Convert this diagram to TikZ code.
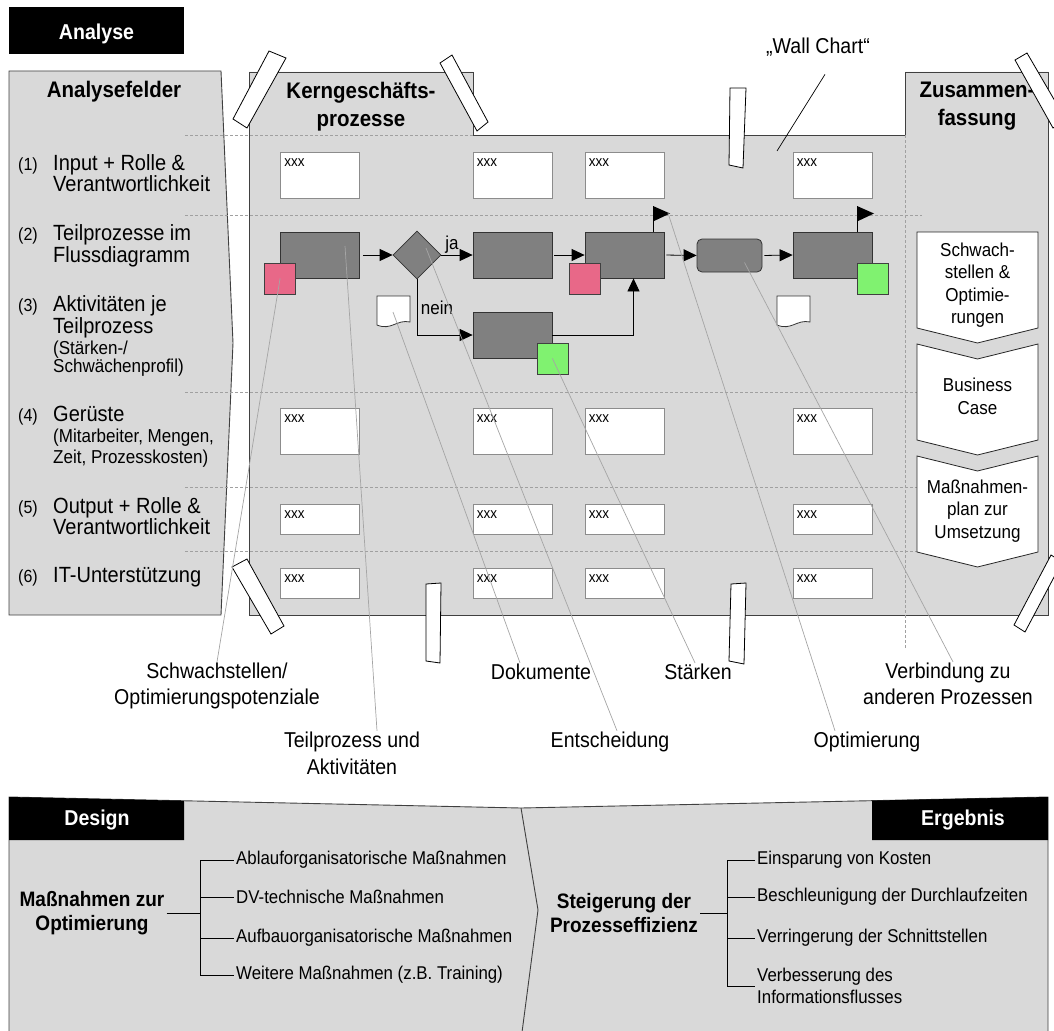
\documentclass[tikz,border=0pt]{standalone}
\usepackage{fontspec}
\setmainfont{Liberation Sans}[FakeStretch=0.91]
\usetikzlibrary{arrows.meta,shapes.geometric}

\definecolor{panelgray}{RGB}{217,217,217}
\definecolor{panelline}{RGB}{64,64,64}
\definecolor{procgray}{RGB}{128,128,128}
\definecolor{weakred}{RGB}{232,104,136}
\definecolor{stronggreen}{RGB}{128,242,112}
\definecolor{boxline}{RGB}{140,140,140}
\definecolor{calloutgray}{RGB}{165,165,165}
\definecolor{rulegray}{RGB}{160,160,160}

\newcommand\fs[2]{\fontsize{#1}{#2}\selectfont}
% white box with "xxx" in its upper left corner: name, x, y, height
\newcommand\xxxbox[4]{%
  \node[xbox,minimum height=#4] (#1) at (#2,#3) {};
  \path (#1.north west) ++(4,11) node[xtext] (#1t) {xxx};
}

\begin{document}
\begin{tikzpicture}[x=1pt,y=-1pt,
  panel/.style={fill=panelgray,draw=panelline,line width=0.9pt},
  tapestrip/.style={fill=white,draw=black,line width=0.8pt},
  rowrule/.style={draw=rulegray,dash pattern=on 3pt off 2pt,line width=0.7pt},
  xbox/.style={draw=boxline,fill=white,line width=0.8pt,minimum width=79pt,inner sep=0pt},
  xtext/.style={font=\fs{14.8}{15},anchor=west,inner sep=0pt},
  proc/.style={draw=black!80,fill=procgray,line width=0.8pt,minimum width=79pt,minimum height=46pt,inner sep=0pt},
  sqbox/.style={draw=black!75,line width=0.8pt,minimum size=31pt,inner sep=0pt},
  flow/.style={-{Triangle[length=13pt,width=12pt]},line width=0.8pt},
  doc/.style={fill=white,draw=black!80,line width=0.8pt},
  chev/.style={fill=white,draw=black!85,line width=0.8pt},
  chevtext/.style={font=\fs{18.7}{22.4},align=center,inner sep=0pt},
  callout/.style={draw=calloutgray,line width=0.7pt},
  calltext/.style={font=\fs{21.5}{26},align=center,inner sep=1pt},
  title/.style={font=\bfseries\fs{22.5}{28},align=center,inner sep=0pt},
  num/.style={font=\fs{17.6}{18},anchor=base west,inner sep=0pt},
  ltxt/.style={font=\fs{22}{22},anchor=base west,inner sep=0pt},
  lsmall/.style={font=\fs{18.7}{19},anchor=base west,inner sep=0pt},
  hdrtext/.style={font=\bfseries\fs{21.5}{22},text=white,anchor=base,inner sep=0pt},
  boldlbl/.style={font=\bfseries\fs{20.9}{24},align=center,inner sep=2pt},
  item/.style={font=\fs{18.5}{22},align=left,anchor=west,inner sep=2pt},
  tree/.style={draw=black,line width=0.8pt}
]
\useasboundingbox (0,0) rectangle (1054,1030);

% ---------- header ----------
\node[fill=black,minimum width=175pt,minimum height=47pt,inner sep=0pt] (hAn) at (96.5,30.5) {};
\node[hdrtext] (hAnT) at (96.5,40) {Analyse};

% ---------- panels ----------
\draw[panel] (9,71) -- (221,71) -- (233,343) -- (221,615) -- (9,615) -- cycle;
\draw[panel] (249,72) -- (473,72) -- (473,135) -- (905,135) -- (905,72)
  -- (1048,72) -- (1048,615) -- (249,615) -- cycle;

% row separators
\draw[rowrule] (185,135) -- (473,135);
\draw[rowrule] (185,215) -- (922,215);
\draw[rowrule] (185,392) -- (917,392);
\draw[rowrule] (185,487) -- (917,487);
\draw[rowrule] (185,551) -- (917,551);
\draw[rowrule] (905,135) -- (905,648);

% ---------- titles ----------
\node[title,anchor=base] (ttlL) at (114,98) {Analysefelder};
\node[title] (ttlM) at (361,106.5) {Kerngeschäfts-\\prozesse};
\node[title] (ttlR) at (977,106.5) {Zusammen-\\fassung};

% ---------- analysis fields ----------
\node[num] (n1) at (18,170) {(1)};
\node[ltxt] (t1a) at (53,170) {Input + Rolle \&};
\node[ltxt] (t1b) at (53,191) {Verantwortlichkeit};
\node[num] (n2) at (18,240) {(2)};
\node[ltxt] (t2a) at (53,240) {Teilprozesse im};
\node[ltxt] (t2b) at (53,262) {Flussdiagramm};
\node[num] (n3) at (18,311) {(3)};
\node[ltxt] (t3a) at (53,311) {Aktivitäten je};
\node[ltxt] (t3b) at (53,333) {Teilprozess};
\node[lsmall] (t3c) at (53,354) {(Stärken-/};
\node[lsmall] (t3d) at (53,372) {Schwächenprofil)};
\node[num] (n4) at (18,421) {(4)};
\node[ltxt] (t4a) at (53,421) {Gerüste};
\node[lsmall] (t4b) at (53,442) {(Mitarbeiter, Mengen,};
\node[lsmall] (t4c) at (53,463) {Zeit, Prozesskosten)};
\node[num] (n5) at (18,513) {(5)};
\node[ltxt] (t5a) at (53,513) {Output + Rolle \&};
\node[ltxt] (t5b) at (53,534) {Verantwortlichkeit};
\node[num] (n6) at (18,582) {(6)};
\node[ltxt] (t6a) at (53,582) {IT-Unterstützung};

% ---------- white boxes ----------
\xxxbox{ba}{320}{175}{46}
\xxxbox{bb}{512.5}{175}{46}
\xxxbox{bc}{624.5}{175}{46}
\xxxbox{bd}{832.5}{175}{46}
\xxxbox{da}{320}{431}{46}
\xxxbox{db}{512.5}{431}{46}
\xxxbox{dc}{624.5}{431}{46}
\xxxbox{dd}{832.5}{431}{46}
\xxxbox{ea}{320}{519}{30}
\xxxbox{eb}{512.5}{519}{30}
\xxxbox{ec}{624.5}{519}{30}
\xxxbox{ed}{832.5}{519}{30}
\xxxbox{fa}{320}{583}{30}
\xxxbox{fb}{512.5}{583}{30}
\xxxbox{fc}{624.5}{583}{30}
\xxxbox{fd}{832.5}{583}{30}

% ---------- process flow ----------
\node[proc] (pA) at (320,255) {};
\node[diamond,draw=black!80,fill=procgray,line width=0.8pt,minimum width=48pt,minimum height=48pt,inner sep=0pt] (pDec) at (417,255) {};
\node[proc] (pB) at (512.5,255) {};
\node[proc] (pC) at (624.5,255) {};
\node[proc,rounded corners=5pt,minimum width=65pt,minimum height=33pt] (pD) at (729.5,255.5) {};
\node[proc] (pE) at (832.5,255) {};
\node[proc] (pF) at (512.5,335) {};

\draw[flow,shorten <=3pt] (pA.east) -- (pDec.west);
\draw[flow] (pDec.east) -- (pB.west);
\draw[flow,shorten <=2pt] (pB.east) -- (pC.west);
\draw[flow,shorten <=2pt] (pC.east) -- (pD.west);
\draw[flow,shorten <=2pt] (pD.east) -- (pE.west);
\draw[flow] (pDec.south) |- (pF.west);
\draw[flow] (pF.east) -| ([xshift=9pt]pC.south);
\node[font=\fs{18.7}{19},inner sep=0pt] (lja) at (452,245) {ja};
\node[font=\fs{18.7}{19},inner sep=0pt] (lnein) at (437,308) {nein};

% flags
\coordinate (flagC) at (653,206);
\coordinate (flagE) at (857,206);
\draw[line width=0.8pt] (flagC) -- (flagC |- pC.north);
\draw[line width=0.8pt] (flagE) -- (flagE |- pE.north);
\fill (flagC) -- ++(17,7.5) -- ++(-17,8) -- cycle;
\fill (flagE) -- ++(17,7.5) -- ++(-17,8) -- cycle;

% weak points and strengths
\node[sqbox,fill=weakred] (wA) at (pA.south west) {};
\node[sqbox,fill=weakred] (wC) at (pC.south west) {};
\node[sqbox,fill=stronggreen] (sF) at (pF.south east) {};
\node[sqbox,fill=stronggreen] (sE) at (pE.south east) {};

% documents
\draw[doc] (377,296) -- (410,296) -- (410,322) .. controls (397,319) and (391,331) .. (377,325) -- cycle;
\draw[doc] (777,296) -- (810,296) -- (810,322) .. controls (797,319) and (791,331) .. (777,325) -- cycle;
\coordinate (doc1) at (393,312);

% ---------- summary chevrons ----------
\draw[chev] (917,232) -- (1038,232) -- (1038,328) -- (977.5,343) -- (917,328) -- cycle;
\draw[chev] (917,344) -- (977.5,359) -- (1038,344) -- (1038,440) -- (977.5,455) -- (917,440) -- cycle;
\draw[chev] (917,456) -- (977.5,471) -- (1038,456) -- (1038,552) -- (977.5,567) -- (917,552) -- cycle;
\node[chevtext] (cv1) at (977.5,285) {Schwach-\\stellen \&\\Optimie-\\rungen};
\node[chevtext] (cv2) at (977.5,396.5) {Business\\Case};
\node[chevtext] (cv3) at (977.5,511) {Maßnahmen-\\plan zur\\Umsetzung};

% ---------- tape strips ----------
\draw[tapestrip] (269,51) -- (286,58) -- (247,128) -- (233,119) -- cycle;
\draw[tapestrip] (440,63) -- (452,55) -- (488,122) -- (477,131) -- cycle;
\draw[tapestrip] (730,88) -- (746,88) -- (743,168) -- (729,165) -- cycle;
\draw[tapestrip] (1015,60) -- (1027,53) -- (1066,120) -- (1053,128) -- cycle;
\draw[tapestrip] (232,567) -- (247,559) -- (284,626) -- (271,634) -- cycle;
\draw[tapestrip] (426,584) -- (441,583) -- (440,663) -- (426,661) -- cycle;
\draw[tapestrip] (731,584) -- (746,583) -- (744,664) -- (729,661) -- cycle;
\draw[tapestrip] (1051,555) -- (1062,562) -- (1025,632) -- (1014,625) -- cycle;

% ---------- callouts ----------
\node[calltext] (lWall) at (818,47) {„Wall Chart“};
\coordinate (wallpt) at (777,151);
\draw[line width=0.7pt] ([xshift=7pt,yshift=-17pt]lWall.south) -- (wallpt);

\node[calltext] (lSchw) at (217,686) {Schwachstellen/\\Optimierungspotenziale};
\node[calltext,font=\fs{21.5}{27}] (lTeil) at (352,753.5) {Teilprozess und\\Aktivitäten};
\node[calltext] (lDok) at (541,672) {Dokumente};
\node[calltext] (lEnt) at (610,742) {Entscheidung};
\node[calltext] (lSt) at (698,672) {Stärken};
\node[calltext] (lOpt) at (867,742) {Optimierung};
\node[calltext] (lVer) at (948,684) {Verbindung zu\\anderen Prozessen};

\draw[callout] (wA.center) -- (lSchw.north);
\draw[callout] ([xshift=25pt,yshift=9pt]pA.center) -- ([xshift=25pt]lTeil.north);
\draw[callout] (doc1) -- ([xshift=-21pt]lDok.north);
\draw[callout] ([xshift=9pt,yshift=7pt]pDec.center) -- ([xshift=7pt]lEnt.north);
\draw[callout] (sF.center) -- ([xshift=-3pt]lSt.north);
\draw[callout] ([xshift=15pt,yshift=-7pt]flagC) -- ([xshift=-32pt]lOpt.north);
\draw[callout] ([xshift=15pt,yshift=-7pt]pD.center) -- ([xshift=5pt]lVer.north);

% ---------- design / result ----------
\draw[panel] (9,797) -- (521,808) -- (1048,797) -- (1048,1040) -- (9,1040) -- cycle;
\draw[draw=panelline,line width=0.9pt] (521,808) -- (538,910) -- (521,1040);
\fill (9,797) -- (184,800.8) -- (184,840) -- (9,840) -- cycle;
\fill (872,800.6) -- (1048,797) -- (1048,840) -- (872,840) -- cycle;
\node[hdrtext] (hDes) at (97,825) {Design};
\node[hdrtext] (hErg) at (963,825) {Ergebnis};

\node[boldlbl] (mz) at (92,913) {Maßnahmen zur\\Optimierung};
\coordinate (mzspine) at (200,913);
\node[item] (mz1) at (234,860) {Ablauforganisatorische Maßnahmen};
\node[item] (mz2) at (234,897) {DV-technische Maßnahmen};
\node[item] (mz3) at (234,938) {Aufbauorganisatorische Maßnahmen};
\node[item] (mz4) at (234,975) {Weitere Maßnahmen (z.B. Training)};
\draw[tree] (mz.east) -- (mzspine);
\draw[tree] (mzspine |- mz1.west) -- (mzspine |- mz4.west);
\draw[tree] (mzspine |- mz1.west) -- (mz1.west);
\draw[tree] (mzspine |- mz2.west) -- (mz2.west);
\draw[tree] (mzspine |- mz3.west) -- (mz3.west);
\draw[tree] (mzspine |- mz4.west) -- (mz4.west);

\node[boldlbl] (sp) at (624,913) {Steigerung der\\Prozesseffizienz};
\coordinate (spspine) at (727,913);
\node[item] (sp1) at (755,860) {Einsparung von Kosten};
\node[item] (sp2) at (755,897) {Beschleunigung der Durchlaufzeiten};
\node[item] (sp3) at (755,938) {Verringerung der Schnittstellen};
\node[item] (sp4) at (755,986) {Verbesserung des\\Informationsflusses};
\draw[tree] (sp.east) -- (spspine);
\draw[tree] (spspine |- sp1.west) -- (spspine |- sp4.west);
\draw[tree] (spspine |- sp1.west) -- (sp1.west);
\draw[tree] (spspine |- sp2.west) -- (sp2.west);
\draw[tree] (spspine |- sp3.west) -- (sp3.west);
\draw[tree] (spspine |- sp4.west) -- (sp4.west);
\end{tikzpicture}
\end{document}
